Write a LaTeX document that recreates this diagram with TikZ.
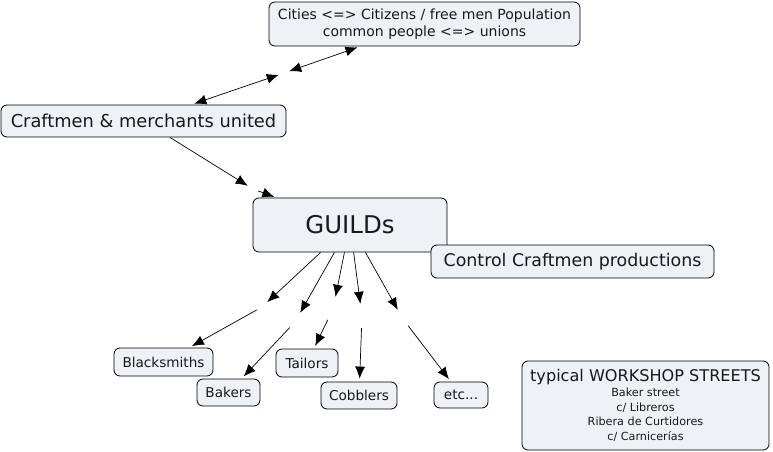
\documentclass[tikz,border=0pt]{standalone}
\usepackage{fontspec}
\setmainfont{DejaVu Sans}
\usetikzlibrary{arrows.meta}
\definecolor{boxfill}{RGB}{236,242,245}
\definecolor{txt}{RGB}{25,25,25}
\begin{document}
\begin{tikzpicture}[x=1pt,y=-1pt,
 concept/.style={draw=black,fill=boxfill,rounded corners=6pt,line width=0.8pt,inner sep=0pt,text=txt,align=center},
 lnk/.style={inner sep=0pt,minimum width=10pt,minimum height=24pt},
 conn/.style={line width=0.7pt,-{Latex[length=12pt,width=10pt]}},
 conntwo/.style={line width=0.7pt,{Latex[length=12pt,width=10pt]}-{Latex[length=12pt,width=10pt]}},
]
\useasboundingbox (0,0) rectangle (773,452);
\node[concept,minimum width=311pt,minimum height=44pt,font=\fontsize{14}{16.5}\selectfont] (cities) at (424.5,24) {Cities <=> Citizens / free men Population\\common people <=> unions};
\node[concept,minimum width=285pt,minimum height=32pt,font=\fontsize{17.8}{20}\selectfont] (craft) at (143.5,121) {Craftmen \& merchants united};
\node[concept,minimum width=194pt,minimum height=54pt,font=\fontsize{24.4}{28}\selectfont] (guilds) at (350,225) {GUILDs};
\node[concept,minimum width=283pt,minimum height=33pt,font=\fontsize{17.4}{20}\selectfont] (control) at (572.5,261.5) {Control Craftmen productions};
\node[concept,minimum width=99pt,minimum height=28pt,font=\fontsize{13.6}{16}\selectfont] (black) at (163.5,362) {Blacksmiths};
\node[concept,minimum width=63pt,minimum height=27pt,font=\fontsize{13.6}{16}\selectfont] (bakers) at (228.5,392.5) {Bakers};
\node[concept,minimum width=62pt,minimum height=28pt,font=\fontsize{13.6}{16}\selectfont] (tailors) at (307,363) {Tailors};
\node[concept,minimum width=76pt,minimum height=27pt,font=\fontsize{13.6}{16}\selectfont] (cobblers) at (359,395.5) {Cobblers};
\node[concept,minimum width=54pt,minimum height=26pt,font=\fontsize{13.6}{16}\selectfont] (etc) at (461,395) {etc...};
\node[concept,minimum width=247pt,minimum height=89pt,font=\fontsize{11.2}{14.6}\selectfont] (streets) at (645.5,405.5) {{\fontsize{16.1}{15}\selectfont typical WORKSHOP STREETS}\\Baker street\\c/ Libreros\\Ribera de Curtidores\\c/ Carnicerías};
% linking nodes
\node[lnk] (l1) at (284,73) {};
\node[lnk] (l2) at (253,189) {};
\node[lnk] (lb) at (262,307) {};
\node[lnk] (lk) at (295,322) {};
\node[lnk] (lt) at (333,309) {};
\node[lnk] (lc) at (362,316) {};
\node[lnk] (le) at (403,319) {};
% connectors
\draw[conntwo,shorten <=3pt] (craft) -- (l1);
\draw[conntwo,shorten >=3pt] (l1) -- (cities);
\draw[conn] (craft) -- (l2);
\draw[conn,shorten >=2pt] (l2) -- (guilds);
\draw[conn] (guilds) -- (lb);
\draw[conn,shorten >=3pt] (lb) -- (black);
\draw[conn] (guilds) -- (lk);
\draw[conn,shorten >=3pt] (lk) -- (bakers);
\draw[conn] (guilds) -- (lt);
\draw[conn,shorten >=3pt] (lt) -- (tailors);
\draw[conn] (guilds) -- (lc);
\draw[conn,shorten >=3pt] (lc) -- (cobblers);
\draw[conn] (guilds) -- (le);
\draw[conn,shorten >=3pt] (le) -- (etc);
\end{tikzpicture}
\end{document}
